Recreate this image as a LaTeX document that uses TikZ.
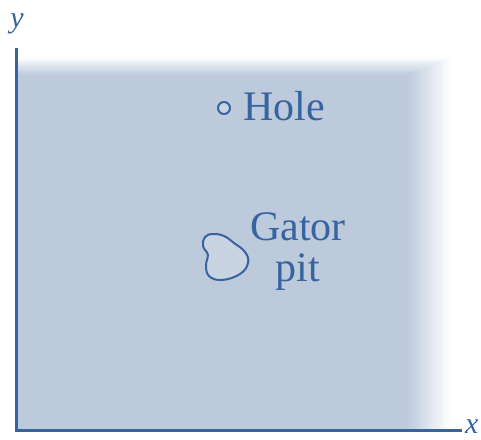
\documentclass[tikz,border=0pt]{standalone}
\usepackage{fontspec}
\setmainfont{Liberation Serif}
\usetikzlibrary{positioning}
\definecolor{fieldfill}{HTML}{BCCADC}
\definecolor{fieldink}{HTML}{3763A0}
\definecolor{pitfill}{HTML}{C9D4E2}

\begin{document}
\begin{tikzpicture}[
  x=1pt,
  y=-1pt,
  every node/.style={text=fieldink, inner sep=0pt},
  axis/.style={fieldink, line width=3pt},
  outline/.style={fieldink, line width=2pt},
  placetext/.style={font=\fontsize{42}{44}\selectfont},
  axislabel/.style={font=\fontsize{30}{32}\selectfont\itshape}
]
  % ---- page frame, same size as the reference ----
  \useasboundingbox (0,0) rectangle (481,439);

  % ---- field: solid block whose top and right edges fade out ----
  \foreach \i in {20,19,...,0}{
    \pgfmathsetmacro{\fade}{100-5*\i}
    \fill[fieldfill!\fade!white] (17,431) rectangle ({408+44*\i/20},{75-18*\i/20});
  }

  % ---- axes ----
  \coordinate (origin) at (16,430);
  \coordinate (xend) at (462,430);
  \coordinate (yend) at (16,48);
  \draw[axis] (yend) -- (origin) -- (xend);
  \node[axislabel, right=3pt of xend, yshift=3pt] (xlabel) {x};
  \node[axislabel] (ylabel) at (17,24) {y};

  % ---- hole ----
  \node[circle, draw=fieldink, line width=2pt, fill=pitfill,
        minimum size=12pt] (hole) at (224,108) {};
  \node[placetext, anchor=base west] (holelabel) at (243,120) {Hole};

  % ---- gator pit ----
  \draw[outline, fill=pitfill] plot[smooth cycle, tension=0.7] coordinates {
    (213,234) (224,236) (234,243) (245,252) (248,263) (240,274)
    (222,280) (209,276) (206,265) (208,255) (203,246) (205,237)};
  \node[placetext, anchor=base] (gatorlabel) at (298,240) {Gator};
  \node[placetext, anchor=base] (pitlabel) at (298,281) {pit};
\end{tikzpicture}
\end{document}
